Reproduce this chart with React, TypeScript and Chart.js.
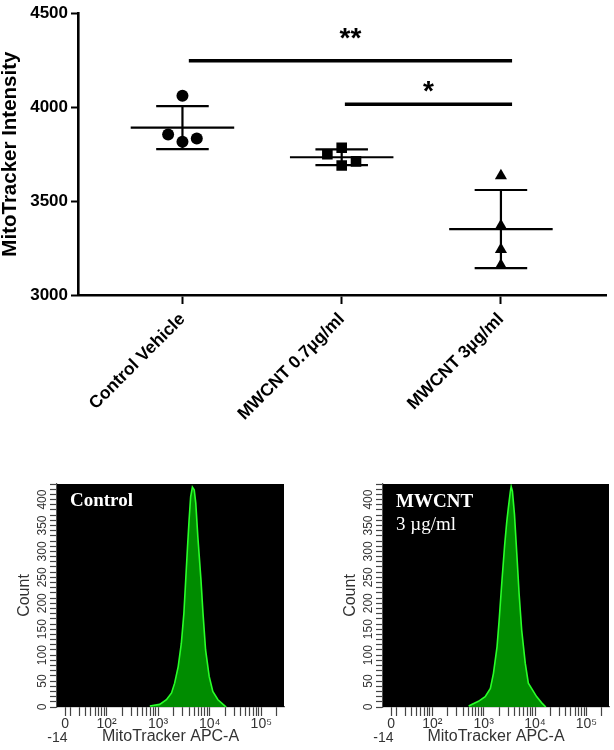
import React, { useEffect, useRef } from 'react';
import { Chart, registerables } from 'chart.js';

Chart.register(...registerables);

const SANS = "'Liberation Sans', Arial, Helvetica, sans-serif";
const SERIF = "'Liberation Serif', 'Times New Roman', serif";

// ---------- top chart data ----------
const categories = ['Control Vehicle', 'MWCNT 0.7\u00b5g/ml', 'MWCNT 3\u00b5g/ml'];
const controlValues = [4061, 3854, 3816, 3833];
const mwcnt07Values = [3784, 3749, 3689, 3711];
const mwcnt3Values = [3635, 3368, 3242, 3158];
const yTickValues = [3000, 3500, 4000, 4500];

// significance annotations
const sigLabels = ['**', '*'];
const sigFrom = [1.04, 2.02];
const sigTo = [3.07, 3.07];
const sigLevel = [4247, 4016];
const sigLabelLevel = [4390, 4108];

// ---------- histogram data (MitoTracker APC-A intensity, counts) ----------
const controlIntensity = [690, 1070, 1450, 1820, 2090, 2450, 2820, 3160, 3430, 3720, 3980, 4270, 4620, 5010, 5370, 5890, 6760, 7410, 8320, 9770, 11480, 14450, 18200, 20890];
const controlCounts = [2, 5, 14, 27, 46, 78, 123, 181, 246, 310, 360, 405, 424, 419, 393, 328, 246, 181, 110, 59, 30, 14, 5, 0];
const mwcntIntensity = [510, 790, 1070, 1350, 1550, 1820, 2000, 2270, 2570, 2820, 3020, 3310, 3430, 3630, 3980, 4420, 4900, 5500, 6460, 7410, 8910, 10720, 13490, 16220];
const mwcntCounts = [2, 11, 20, 36, 65, 116, 167, 244, 314, 358, 384, 416, 425, 416, 371, 295, 218, 148, 84, 46, 33, 20, 8, 0];
const histTickValues = [0, 20, 30, 40, 50, 60, 70, 80, 90,
  100, 200, 300, 400, 500, 600, 700, 800, 900,
  1000, 2000, 3000, 4000, 5000, 6000, 7000, 8000, 9000,
  10000, 20000, 30000, 40000, 50000, 60000, 70000, 80000, 90000,
  100000, 200000];
const histMajorValues = [0, 100, 1000, 10000, 100000];
const histMajorLabels: (string | string[])[] = [['0', '-14    '], '10\u00b2', '10\u00b3', '10\u2074', '10\u2075'];

// biexponential-like display position (decades)
function toPos(v: number): number {
  if (v <= 0) return 1.2 + v * 0.005;
  if (v < 20) return 1.2 + (Math.log10(20) - 1.2) * (v / 20);
  return Math.log10(v);
}

const groups = [controlValues, mwcnt07Values, mwcnt3Values];
const groupPointStyles = ['circle', 'rect', 'triangle'];
const groupRadius = [6, 7.5, 7];
const groupJitter = [[0, -0.09, 0, 0.09], [0, -0.09, 0, 0.09], [0, 0, 0, 0]];

function mean(a: number[]) { return a.reduce((s, v) => s + v, 0) / a.length; }
function sd(a: number[]) {
  const m = mean(a);
  return Math.sqrt(a.reduce((s, v) => s + (v - m) * (v - m), 0) / (a.length - 1));
}

const meanSdPlugin = {
  id: 'meanSd',
  afterDatasetsDraw(chart: any) {
    const { ctx, scales: { x, y } } = chart;
    ctx.save();
    ctx.strokeStyle = '#000';
    ctx.lineWidth = 2.2;
    groups.forEach((vals, gi) => {
      const c = gi + 1;
      const m = mean(vals);
      const s = sd(vals);
      const yM = y.getPixelForValue(m);
      const yT = y.getPixelForValue(m + s);
      const yB = y.getPixelForValue(m - s);
      ctx.beginPath();
      ctx.moveTo(x.getPixelForValue(c - 0.325), yM);
      ctx.lineTo(x.getPixelForValue(c + 0.325), yM);
      ctx.moveTo(x.getPixelForValue(c - 0.165), yT);
      ctx.lineTo(x.getPixelForValue(c + 0.165), yT);
      ctx.moveTo(x.getPixelForValue(c - 0.165), yB);
      ctx.lineTo(x.getPixelForValue(c + 0.165), yB);
      ctx.moveTo(x.getPixelForValue(c), yT);
      ctx.lineTo(x.getPixelForValue(c), yB);
      ctx.stroke();
    });
    ctx.restore();
  },
};

const sigPlugin = {
  id: 'sig',
  afterDatasetsDraw(chart: any) {
    const { ctx, scales: { x, y } } = chart;
    ctx.save();
    ctx.strokeStyle = '#000';
    ctx.fillStyle = '#000';
    ctx.lineWidth = 3.5;
    sigLabels.forEach((lab, i) => {
      const yp = y.getPixelForValue(sigLevel[i]);
      ctx.beginPath();
      ctx.moveTo(x.getPixelForValue(sigFrom[i]), yp);
      ctx.lineTo(x.getPixelForValue(sigTo[i]), yp);
      ctx.stroke();
      ctx.font = `bold 28px ${SANS}`;
      ctx.textAlign = 'center';
      ctx.textBaseline = 'alphabetic';
      const m = ctx.measureText(lab);
      const cx = x.getPixelForValue((sigFrom[i] + sigTo[i]) / 2);
      const cy = y.getPixelForValue(sigLabelLevel[i]);
      ctx.fillText(lab, cx, cy + (m.actualBoundingBoxAscent - m.actualBoundingBoxDescent) / 2);
    });
    ctx.restore();
  },
};

function TopChart() {
  const ref = useRef<HTMLCanvasElement>(null);
  useEffect(() => {
    if (!ref.current) return;
    const chart = new Chart(ref.current, {
      type: 'scatter',
      data: {
        datasets: groups.map((vals, gi) => ({
          label: categories[gi],
          data: vals.map((v, i) => ({ x: gi + 1 + groupJitter[gi][i], y: v })),
          pointStyle: groupPointStyles[gi] as any,
          pointRadius: groupRadius[gi],
          backgroundColor: '#000',
          borderColor: '#000',
          borderWidth: 0,
        })),
      },
      options: {
        responsive: false,
        animation: false,
        events: [],
        layout: { padding: { top: 11, right: 5, left: 0, bottom: 0 } },
        plugins: { legend: { display: false }, tooltip: { enabled: false } },
        scales: {
          x: {
            type: 'linear',
            min: 0.344,
            max: 3.663,
            afterBuildTicks: (s: any) => { s.ticks = categories.map((_, i) => ({ value: i + 1 })); },
            afterFit: (s: any) => { s.height = 145; },
            ticks: {
              autoSkip: false,
              minRotation: 45,
              maxRotation: 45,
              padding: 5,
              color: '#000',
              font: { family: SANS, size: 17.5, weight: 'bold' },
              callback: (_v: any, i: number) => categories[i],
            },
            grid: { drawOnChartArea: false, tickLength: 9, tickWidth: 2, color: '#000' },
            border: { color: '#000', width: 2.6 },
          },
          y: {
            type: 'linear',
            min: 3000,
            max: 4500,
            afterBuildTicks: (s: any) => { s.ticks = yTickValues.map((v) => ({ value: v })); },
            afterFit: (s: any) => { s.width = 78; },
            ticks: {
              padding: 3,
              color: '#000',
              font: { family: SANS, size: 17, weight: 'bold' },
              callback: (v: any) => String(v),
            },
            grid: { drawOnChartArea: false, tickLength: 7, tickWidth: 2, color: '#000' },
            border: { color: '#000', width: 2.6 },
            title: {
              display: true,
              text: 'MitoTracker Intensity',
              color: '#000',
              font: { family: SANS, size: 20.5, weight: 'bold', lineHeight: 1.05 },
              padding: { top: 0, bottom: 0 },
            },
          },
        },
      } as any,
      plugins: [meanSdPlugin, sigPlugin],
    });
    return () => chart.destroy();
  }, []);
  return <canvas ref={ref} width={614} height={440} style={{ position: 'absolute', left: 0, top: 0 }} />;
}

type InsetLine = { text: string; bold: boolean; dy: number };

function Histogram(props: { intensity: number[]; counts: number[]; left: number; width: number; padRight: number; inset: InsetLine[] }) {
  const ref = useRef<HTMLCanvasElement>(null);
  useEffect(() => {
    if (!ref.current) return;
    const bgPlugin = {
      id: 'bg',
      beforeDatasetsDraw(chart: any) {
        const { ctx, chartArea: a } = chart;
        ctx.save();
        ctx.fillStyle = '#000';
        ctx.fillRect(a.left, a.top, a.right - a.left, a.bottom - a.top);
        ctx.restore();
      },
      afterDatasetsDraw(chart: any) {
        const { ctx, chartArea: a } = chart;
        ctx.save();
        ctx.fillStyle = '#fff';
        ctx.textAlign = 'left';
        ctx.textBaseline = 'middle';
        props.inset.forEach((ln) => {
          ctx.font = `${ln.bold ? 'bold ' : ''}19px ${SERIF}`;
          ctx.fillText(ln.text, a.left + 13, a.top + ln.dy);
        });
        ctx.restore();
      },
    };
    const chart = new Chart(ref.current, {
      type: 'line',
      data: {
        datasets: [{
          data: props.intensity.map((v, i) => ({ x: toPos(v), y: props.counts[i] })),
          fill: 'origin',
          backgroundColor: 'rgb(0,140,0)',
          borderColor: 'rgb(40,255,40)',
          borderWidth: 1.6,
          pointRadius: 0,
          tension: 0,
        }],
      },
      options: {
        responsive: false,
        animation: false,
        events: [],
        layout: { padding: { top: 14, right: props.padRight, left: 0, bottom: 0 } },
        plugins: { legend: { display: false }, tooltip: { enabled: false } },
        scales: {
          x: {
            type: 'linear',
            min: 1.04,
            max: 5.44,
            afterBuildTicks: (s: any) => { s.ticks = histTickValues.map((v) => ({ value: toPos(v) })); },
            afterFit: (s: any) => { s.height = 43; },
            ticks: {
              autoSkip: false,
              minRotation: 0,
              maxRotation: 0,
              padding: 1,
              color: '#333',
              font: { family: SANS, size: 14, lineHeight: 1.0 },
              callback: (_v: any, i: number) => {
                const k = histMajorValues.indexOf(histTickValues[i]);
                return k >= 0 ? histMajorLabels[k] : '';
              },
            },
            grid: { drawOnChartArea: false, tickLength: 9, tickWidth: 1.2, color: '#444' },
            border: { color: '#555', width: 1.2 },
            title: {
              display: true,
              text: 'MitoTracker APC-A',
              color: '#333',
              font: { family: SANS, size: 16 },
              padding: { top: 0, bottom: 4 },
            },
          },
          y: {
            type: 'linear',
            min: 0,
            max: 430,
            afterFit: (s: any) => { s.width = 57; },
            ticks: {
              stepSize: 10,
              autoSkip: false,
              minRotation: 90,
              maxRotation: 90,
              crossAlign: 'center',
              padding: -3,
              color: '#333',
              font: { family: SANS, size: 12 },
              callback: (v: any) => (v % 50 === 0 ? String(v) : ''),
            },
            grid: { drawOnChartArea: false, tickLength: 7, tickWidth: 1.2, color: '#444' },
            border: { color: '#555', width: 1.2 },
            title: {
              display: true,
              text: 'Count',
              color: '#333',
              font: { family: SANS, size: 16 },
              padding: { top: 15, bottom: 0 },
            },
          },
        },
      } as any,
      plugins: [bgPlugin],
    });
    return () => chart.destroy();
  }, []);
  return <canvas ref={ref} width={props.width} height={280} style={{ position: 'absolute', left: props.left, top: 470 }} />;
}

export default function App() {
  return (
    <div style={{ position: 'absolute', left: 0, top: 0, width: 614, height: 750, background: '#fff', overflow: 'hidden' }}>
      <TopChart />
      <Histogram
        intensity={controlIntensity}
        counts={controlCounts}
        left={0}
        width={300}
        padRight={16}
        inset={[{ text: 'Control', bold: true, dy: 17 }]}
      />
      <Histogram
        intensity={mwcntIntensity}
        counts={mwcntCounts}
        left={326}
        width={288}
        padRight={5}
        inset={[{ text: 'MWCNT', bold: true, dy: 18 }, { text: '3 \u00b5g/ml', bold: false, dy: 41 }]}
      />
    </div>
  );
}
